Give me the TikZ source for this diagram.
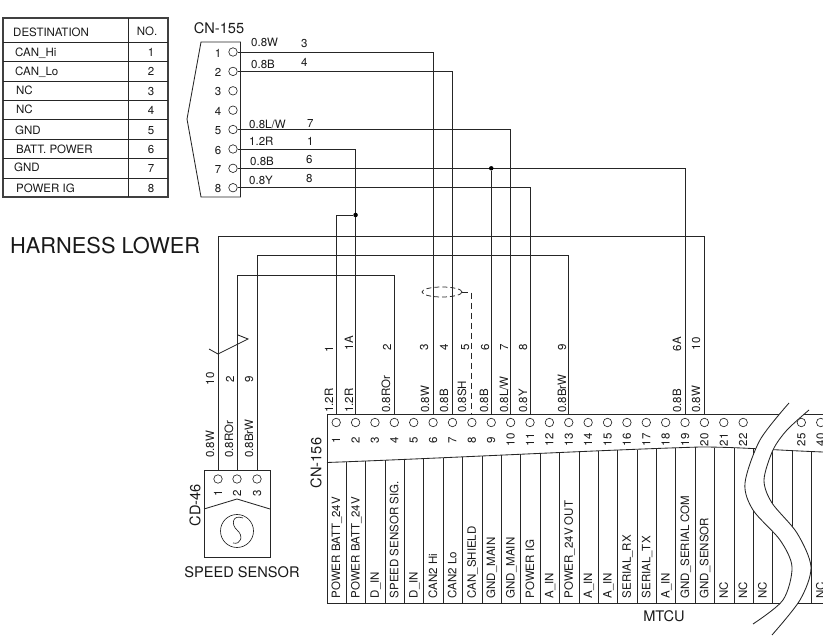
\documentclass[tikz,border=0pt]{standalone}
\usepackage{fontspec}
\setmainfont{TeX Gyre Heros}
\usetikzlibrary{calc,shapes.geometric}
\newcommand{\fs}[1]{\fontsize{#1}{#1}\selectfont}
\tikzset{
  ln/.style={line width=0.85pt,black!85},
  thick ln/.style={line width=1.1pt,black!75},
  pin/.style={circle,draw=black!85,line width=0.65pt,minimum size=8.5pt,inner sep=0pt},
  txt/.style={inner sep=0pt,text=black!90,font=\fs{11.5}},
  ltxt/.style={txt,anchor=base west},
  ctxt/.style={txt,anchor=base},
  big/.style={inner sep=0pt,text=black!90,font=\fs{14.6}},
  vlab/.style={txt,rotate=90,anchor=base west},
  vnum/.style={txt,rotate=90,anchor=base},
  dot/.style={circle,fill=black,inner sep=0pt,minimum size=4.5pt},
}
\begin{document}
\begin{tikzpicture}[x=1pt,y=-1pt]
\useasboundingbox (0,0) rectangle (823,636);
\clip (0,0) rectangle (823,636);
% table
\draw[thick ln] (3,18) rectangle (168,197);
\draw[ln] (128,18) -- (128,197);
\foreach \y in {42,61,81,100,119,139,158,178} \draw[ln] (3,\y) -- (168,\y);
\node[ltxt] (h1) at (13,37) {DESTINATION};
\node[ctxt] (h2) at (147,36) {NO.};
\foreach \n/\x/\y/\t in {1/15/57/CAN\_Hi,2/15/76/CAN\_Lo,3/16/95/NC,4/16/114/NC,5/15/135/GND,6/16/154/BATT. POWER,7/14/172/GND,8/16/193/POWER IG}
  \node[ltxt] (d\n) at (\x,\y) {\t};
\foreach \n/\y in {1/57,2/76,3/96,4/115,5/135,6/154,7/173,8/193}
  \node[ctxt] (e\n) at (151,\y) {\n};
% CN-155
\node[big] (cn155) at (219,28) {CN-155};
\draw[ln] (201,42) -- (240.5,42) -- (240.5,197) -- (201,197) -- (187,119) -- cycle;
\foreach \n/\y in {1/52,2/71.4,3/90.8,4/110.2,5/129.5,6/149,7/168.3,8/187.7}{
  \node[pin] (a\n) at (233,\y) {};
  \node[txt] (an\n) at (218,\y+1.2) {\n};
}
% MTCU box
\draw[ln] (823,414) -- (327,414) -- (327,603) -- (823,603);
\draw[ln] (327,462.5) .. controls (450,458) and (600,450) .. (700,447) .. controls (740,447) and (770,450) .. (823,452);
\foreach \k in {1,...,25}{
  \pgfmathsetmacro{\xs}{327+19.38*\k}
  \pgfmathsetmacro{\yt}{\xs<700 ? 462.5-15.5*(\xs-327)/373 : 447+5*(\xs-700)/123}
  \draw[ln] (\xs,\yt) -- (\xs,603);
}
\foreach \k/\l in {1/1,2/2,3/3,4/4,5/5,6/6,7/7,8/8,9/9,10/10,11/11,12/12,13/13,14/14,15/15,16/16,17/17,18/18,19/19,20/20,21/21,22/22,25/25,26/40}{
  \pgfmathsetmacro{\xp}{336.2+19.38*(\k-1)}
  \node[pin] (b\k) at (\xp,422.5) {};
  \coordinate (t\k) at (\xp,414);
  \node[vnum] (bn\k) at (\xp+4,440) {\l};
}
\foreach \k/\t in {1/POWER BATT\_24V,2/POWER BATT\_24V,3/D\_IN,4/SPEED SENSOR SIG.,5/D\_IN,6/CAN2 Hi,7/CAN2 Lo,8/CAN\_SHIELD,9/GND\_MAIN,10/GND\_MAIN,11/POWER IG,12/A\_IN,13/POWER\_24V OUT,14/A\_IN,15/A\_IN,16/SERIAL\_RX,17/SERIAL\_TX,18/A\_IN,19/GND\_SERIAL COM,20/GND\_SENSOR,21/NC,22/NC,23/NC,26/NC}{
  \pgfmathsetmacro{\xp}{336.2+19.38*(\k-1)}
  \node[vlab] (f\k) at (\xp+4,598.5) {\t};
}
\node[big,rotate=90] (cn156) at (316,463) {CN-156};
\node[big] (mtcu) at (664,616) {MTCU};
% CD-46
\draw[ln] (204,470) rectangle (270,557);
\draw[ln] (204,509) -- (237,499) -- (270,509);
\foreach \n/\x in {1/218,2/237,3/257}{
  \node[pin] (c\n) at (\x,479) {};
  \coordinate (ct\n) at (\x,470);
  \node[vnum] (cn\n) at (\x+4,493.5) {\n};
}
\node[circle,draw=black!85,line width=0.65pt,minimum size=33pt,inner sep=0pt] (sens) at (237,531) {};
\draw[ln,line width=0.65pt] (243,518) .. controls (232,514) and (231,525) .. (237,530) .. controls (244,536) and (241,545) .. (233,543);
\node[big,rotate=90] (cd46) at (195,505) {CD-46};
\node[big] (speed) at (242,572) {SPEED SENSOR};
\node[inner sep=0pt,text=black!90,font=\fs{21.8},anchor=base west] (harness) at (10,254) {HARNESS LOWER};
% wires
\draw[ln] (a1) -| (t6);
\draw[ln] (a2) -| (t7);
\draw[ln] (a5) -| (t10);
\draw[ln] (a6) -| (t2);
\draw[ln] (a7) -| (t19);
\draw[ln] (a8) -| (t11);
\node[dot] (j1) at (t9 |- a7) {};
\draw[ln] (j1) -- (t9);
\coordinate (y215) at (0,215);
\node[dot] (j2) at (t2 |- y215) {};
\draw[ln] (j2) -| (t1);
\coordinate (y236) at (0,236);
\coordinate (y255) at (0,255);
\coordinate (y275) at (0,275);
\draw[ln] (ct1) -- (ct1 |- y236) -- (t20 |- y236) -- (t20);
\draw[ln] (ct3) -- (ct3 |- y255) -- (t13 |- y255) -- (t13);
\draw[ln] (ct2) -- (ct2 |- y275) -- (t4 |- y275) -- (t4);
% break mark
\coordinate (z1) at (209,349);\coordinate (z2) at (218,354);\coordinate (z3) at (248,339);\coordinate (z4) at (238,335);
\draw[ln] (z1) -- (z2) -- (z3) -- (z4);
% shield
\node[ellipse,draw=black!85,line width=0.75pt,minimum width=40pt,minimum height=10pt,inner sep=0pt,dash pattern=on 5pt off 3pt] (sh) at (442,292) {};
\draw[ln,dash pattern=on 6pt off 4pt] (sh.east) -- (t8 |- sh.east) -- (t8);
% top wire labels
\foreach \t/\x/\y/\n/\nx/\ny in {{0.8W}/251/47/3/301/48,{0.8B}/251/69/4/301/67,{0.8L/W}/249/129/7/307/128,{1.2R}/249/146/1/307/146,{0.8B}/250/166/6/306/164,{0.8Y}/249/185/8/306/183}{
  \node[ltxt] at (\x,\y) {\t};
  \node[ltxt] at (\nx,\ny) {\n};
}
% vertical wire labels
\foreach \x/\t in {333/1.2R,353/1.2R,390/0.8ROr,429/0.8W,448/0.8B,466/0.8SH,488/0.8B,508/{0.8L/W},527/0.8Y,566/0.8BrW,681/0.8B,700/0.8W}
  \node[vlab] at (\x,413) {\t};
\foreach \x/\t in {214/0.8W,233/0.8ROr,253/0.8BrW}
  \node[vlab] at (\x,458) {\t};
\foreach \x/\y/\t in {333/349/1,353/343/1A,391/347/2,428/347/3,448/347/4,469/347/5,489/347/6,508/347/7,527/347/8,566/347/9,681/344/6A,700/344/10,214/379/10,234/379/2,253/379/9}
  \node[vnum] at (\x,\y) {\t};
% white break band
\fill[white] plot[smooth] coordinates {(789,403) (760,440) (745,483) (753,510) (780,540) (792,567) (783,600) (753,624)} -- plot[smooth] coordinates {(772,635) (800,600) (811,567) (797,533) (772,503) (764,480) (773,450) (787,430) (809,410)} -- cycle;
\draw[ln] plot[smooth] coordinates {(789,403) (760,440) (745,483) (753,510) (780,540) (792,567) (783,600) (753,624)};
\draw[ln] plot[smooth] coordinates {(772,635) (800,600) (811,567) (797,533) (772,503) (764,480) (773,450) (787,430) (809,410)};
\end{tikzpicture}
\end{document}
